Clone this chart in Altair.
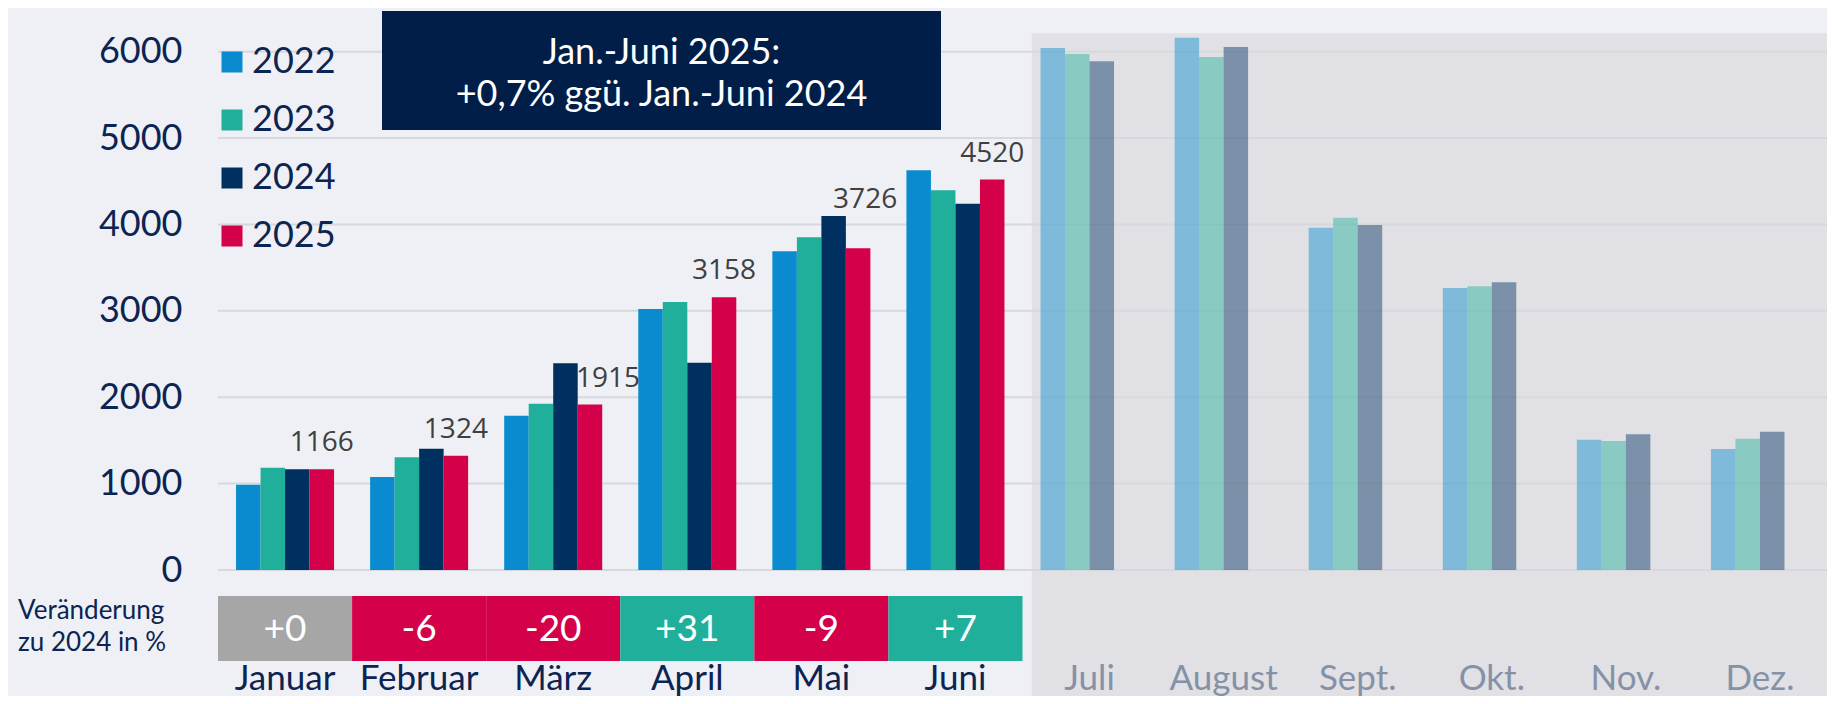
import altair as alt
import pandas as pd

# ---------------- data ----------------
months = ["Januar", "Februar", "März", "April", "Mai", "Juni",
          "Juli", "August", "Sept.", "Okt.", "Nov.", "Dez."]
years = ["2022", "2023", "2024", "2025"]
v2022 = [988, 1076, 1787, 3021, 3689, 4627, 6043, 6163, 3963, 3265, 1509, 1401]
v2023 = [1184, 1304, 1925, 3103, 3851, 4395, 5974, 5939, 4079, 3284, 1493, 1520]
v2024 = [1165, 1405, 2392, 2400, 4098, 4241, 5889, 6055, 3994, 3331, 1571, 1601]
v2025 = [1166, 1324, 1915, 3158, 3726, 4520]
change_labels = ["+0", "-6", "-20", "+31", "-9", "+7"]
change_class = ["neutral", "down", "down", "up", "down", "up"]
y_ticks = [0, 1000, 2000, 3000, 4000, 5000, 6000]
note_lines = ["Jan.-Juni 2025:", "+0,7% ggü. Jan.-Juni 2024"]
strip_title = ["Veränderung", "zu 2024 in %"]

# ---------------- tables ----------------
series = {"2022": v2022, "2023": v2023, "2024": v2024, "2025": v2025}
rows = []
for yr, vals in series.items():
    for i, v in enumerate(vals):
        rows.append({"month": months[i], "year": yr, "value": v,
                     "faded": i >= len(v2025)})
bars_df = pd.DataFrame(rows)
lab_df = pd.DataFrame({"month": months[:len(v2025)], "year": "2025", "value": v2025})
strip_df = pd.DataFrame({"month": months[:len(change_labels)],
                         "label": change_labels, "cls": change_class})
month_df = pd.DataFrame({"month": months,
                         "faded": [i >= len(v2025) for i in range(len(months))]})
gray_df = pd.DataFrame({"month": months[len(v2025):]})
tick_df = pd.DataFrame({"tick": y_ticks})

# ---------------- style ----------------
FONT = "Lato"
NAVY = "#0C2451"
COLORS = ["#0A8BCF", "#1FAF9A", "#00305F", "#D5004A"]
GRAY_BG = "#E1E1E5"
W, H = 1609, 536

xenc = alt.X("month:N", sort=months,
             scale=alt.Scale(domain=months, paddingInner=0, paddingOuter=0),
             axis=None)
yscale = alt.Scale(domain=[0, 6205], nice=False, zero=False)
yaxis = alt.Axis(values=y_ticks, format="d", grid=False, domain=False, ticks=False,
                 labelFontSize=36, labelFont=FONT, labelColor=NAVY,
                 labelPadding=36, title=None)
xoff = alt.XOffset("year:N", scale=alt.Scale(domain=years, paddingInner=0,
                                             paddingOuter=0.736))

gray = alt.Chart(gray_df).mark_rect(
    color=GRAY_BG, stroke=GRAY_BG, strokeWidth=1.5, xOffset=10, x2Offset=10
).encode(x=xenc, y=alt.value(0), y2=alt.value(662))

grid = alt.Chart(tick_df).mark_rule(color="#D7D8DD", strokeWidth=2).encode(
    y=alt.Y("tick:Q", scale=yscale, axis=yaxis))

bars = alt.Chart(bars_df).mark_bar().encode(
    x=xenc,
    xOffset=xoff,
    y=alt.Y("value:Q", scale=yscale, axis=yaxis),
    color=alt.Color("year:N", scale=alt.Scale(domain=years, range=COLORS),
                    legend=alt.Legend(orient="none", legendX=-4, legendY=10,
                                      title=None, symbolType="square",
                                      symbolSize=441, symbolStrokeWidth=0,
                                      symbolOpacity=1, labelFontSize=36,
                                      labelFont=FONT, labelColor=NAVY,
                                      labelOffset=2, rowPadding=22, padding=0)),
    opacity=alt.condition("datum.faded", alt.value(0.45), alt.value(1.0)),
)

def value_labels(sel, dx, dy):
    return alt.Chart(lab_df).transform_filter(sel).mark_text(
        font="Open Sans", fontSize=28, color="#404040", baseline="alphabetic",
        dy=dy, dx=dx).encode(
        x=xenc, xOffset=xoff,
        y=alt.Y("value:Q", scale=yscale),
        text=alt.Text("value:Q"))

lab_main = value_labels("datum.month != 'März' && datum.month != 'Mai'", 0, -18)
lab_mar = value_labels("datum.month == 'März'", 18, -18)
lab_mai = value_labels("datum.month == 'Mai'", 7, -40)

strip = alt.Chart(strip_df).mark_rect(strokeWidth=0).encode(
    x=xenc, y=alt.value(562), y2=alt.value(627),
    fill=alt.Fill("cls:N", scale=alt.Scale(domain=["neutral", "down", "up"],
                                          range=["#A6A6A6", "#D5004A", "#1FAF9A"]),
                  legend=None))
strip_text = alt.Chart(strip_df).mark_text(
    font=FONT, fontSize=37, color="white", baseline="middle").encode(
    x=xenc, y=alt.value(596), text="label:N")

month_text = alt.Chart(month_df).mark_text(
    font=FONT, fontSize=35, baseline="alphabetic").encode(
    x=xenc, y=alt.value(656), text="month:N",
    color=alt.condition("datum.faded", alt.value("#8591A7"), alt.value(NAVY)))

one = pd.DataFrame({"k": [0]})
strip_lab1 = alt.Chart(one).mark_text(
    font=FONT, fontSize=26, color=NAVY, align="left", baseline="alphabetic"
).encode(x=alt.value(-200), y=alt.value(585), text=alt.value(strip_title[0]))
strip_lab2 = alt.Chart(one).mark_text(
    font=FONT, fontSize=26, color=NAVY, align="left", baseline="alphabetic"
).encode(x=alt.value(-200), y=alt.value(617), text=alt.value(strip_title[1]))

box = alt.Chart(one).mark_rect(color="#001E48").encode(
    x=alt.value(164), x2=alt.value(723), y=alt.value(-23), y2=alt.value(96))
note1 = alt.Chart(one).mark_text(
    font=FONT, fontSize=36, color="white", baseline="alphabetic").encode(
    x=alt.value(443.5), y=alt.value(30), text=alt.value(note_lines[0]))
note2 = alt.Chart(one).mark_text(
    font=FONT, fontSize=36, color="white", baseline="alphabetic").encode(
    x=alt.value(443.5), y=alt.value(72), text=alt.value(note_lines[1]))

chart = alt.layer(
    gray, grid, bars, lab_main, lab_mar, lab_mai, strip, strip_text,
    month_text, strip_lab1, strip_lab2, box, note1, note2
).properties(
    width=W, height=H,
    autosize=alt.AutoSizeParams(type="none"),
    padding={"left": 210, "top": 26, "right": 0, "bottom": 126},
    background="#EFF0F5",
).configure_view(stroke=None)

chart.save("out.html", embed_options={"renderer": "svg", "actions": False})
